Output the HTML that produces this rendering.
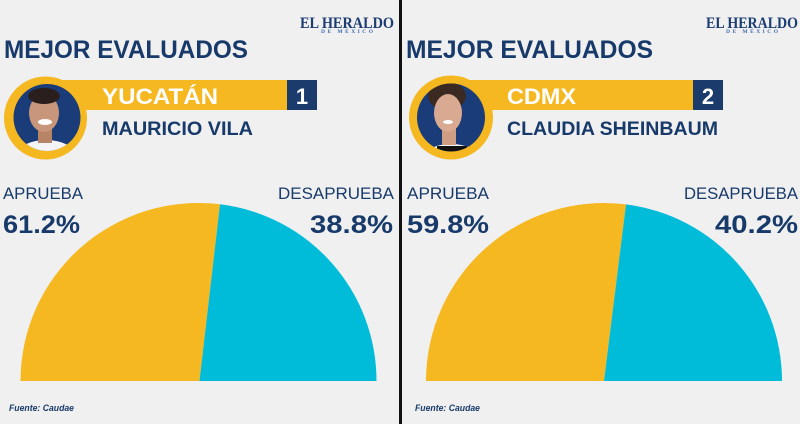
<!DOCTYPE html>
<html>
<head>
<meta charset="utf-8">
<style>
  html,body{margin:0;padding:0;background:#f0f0f0;}
  svg{display:block;}
  text{font-family:"Liberation Sans",sans-serif;}
  text.serif{font-family:"Liberation Serif","DejaVu Serif",serif;}
</style>
</head>
<body>
<svg width="800" height="424" viewBox="0 0 800 424" xmlns="http://www.w3.org/2000/svg">
  <defs>
    <clipPath id="cl"><circle cx="47" cy="117.5" r="33.5"/></clipPath>
    <clipPath id="cr"><circle cx="451" cy="117.5" r="34"/></clipPath>
  </defs>
  <rect x="0" y="0" width="800" height="424" fill="#f0f0f0"/>
  <!-- divider -->
  <rect x="399" y="0" width="3" height="424" fill="#111"/>

  <!-- ============ LEFT PANEL ============ -->
  <text class="serif" x="300" y="28" style="font-family:'Liberation Serif',serif;font-weight:bold" font-size="16" fill="#1b3d72" textLength="94" lengthAdjust="spacingAndGlyphs">EL HERALDO</text>
  <text class="serif" x="321" y="33" style="font-family:'Liberation Serif',serif;font-weight:bold" font-size="5.5" fill="#3d6bb0" textLength="52" lengthAdjust="spacing">DE MÉXICO</text>

  <text x="4" y="58" font-weight="bold" font-size="25" fill="#183a6b" textLength="244" lengthAdjust="spacingAndGlyphs">MEJOR EVALUADOS</text>

  <rect x="60" y="80" width="228" height="30" fill="#f5b820"/>
  <rect x="287" y="80" width="30" height="30" fill="#1c3b6d"/>
  <circle cx="45.5" cy="118" r="41.5" fill="#f5b820"/>
  <circle cx="47" cy="117.5" r="33.5" fill="#1a3c78"/>
  <g clip-path="url(#cl)">
    <ellipse cx="46" cy="156" rx="30" ry="16" fill="#f4f4f6"/>
    <rect x="38" y="125" width="14" height="18" fill="#b88466"/>
    <ellipse cx="44" cy="113" rx="15" ry="19" fill="#c8967a"/>
    <ellipse cx="44" cy="96" rx="16" ry="8" fill="#2a1f1c"/>
    <ellipse cx="45" cy="122" rx="7" ry="3" fill="#ffffff"/>
  </g>
  <text x="102" y="104" font-weight="bold" font-size="22" fill="#ffffff" textLength="116" lengthAdjust="spacingAndGlyphs">YUCATÁN</text>
  <text x="302" y="104" font-weight="bold" font-size="22" fill="#ffffff" text-anchor="middle">1</text>
  <text x="102" y="135" font-weight="bold" font-size="19" fill="#183a6b" textLength="151" lengthAdjust="spacingAndGlyphs">MAURICIO VILA</text>

  <text x="3" y="199" font-size="17" fill="#183a6b" textLength="80" lengthAdjust="spacingAndGlyphs">APRUEBA</text>
  <text x="278" y="199" font-size="17" fill="#183a6b" textLength="116" lengthAdjust="spacingAndGlyphs">DESAPRUEBA</text>
  <text x="3" y="233" font-weight="bold" font-size="25" fill="#183a6b" textLength="77" lengthAdjust="spacingAndGlyphs">61.2%</text>
  <text x="310" y="233" font-weight="bold" font-size="25" fill="#183a6b" textLength="83" lengthAdjust="spacingAndGlyphs">38.8%</text>

  <path d="M20.5 381 A178 178 0 0 1 220 204.3 L199.5 381 Z" fill="#f5b820"/>
  <path d="M220 204.3 A178 178 0 0 1 376.5 381 L199.5 381 Z" fill="#00bcd9"/>

  <text x="9" y="411" font-size="9" font-weight="bold" font-style="italic" fill="#183a6b" textLength="65" lengthAdjust="spacingAndGlyphs">Fuente: Caudae</text>

  <!-- ============ RIGHT PANEL ============ -->
  <text class="serif" x="706" y="28" style="font-family:'Liberation Serif',serif;font-weight:bold" font-size="16" fill="#1b3d72" textLength="92" lengthAdjust="spacingAndGlyphs">EL HERALDO</text>
  <text class="serif" x="726" y="33" style="font-family:'Liberation Serif',serif;font-weight:bold" font-size="5.5" fill="#3d6bb0" textLength="52" lengthAdjust="spacing">DE MÉXICO</text>

  <text x="406" y="58" font-weight="bold" font-size="25" fill="#183a6b" textLength="247" lengthAdjust="spacingAndGlyphs">MEJOR EVALUADOS</text>

  <rect x="465" y="80" width="229" height="30" fill="#f5b820"/>
  <rect x="693" y="80" width="30" height="30" fill="#1c3b6d"/>
  <circle cx="451" cy="117.5" r="42" fill="#f5b820"/>
  <circle cx="451" cy="117.5" r="34" fill="#1a3c78"/>
  <g clip-path="url(#cr)">
    <ellipse cx="451" cy="160" rx="30" ry="16" fill="#f4f4f6"/>
    <rect x="437" y="146" width="30" height="6" fill="#111"/>
    <rect x="442" y="125" width="14" height="20" fill="#cf9c84"/>
    <ellipse cx="447" cy="96" rx="19" ry="14" fill="#3a2a22"/>
    <ellipse cx="448" cy="113" rx="14" ry="19" fill="#d9a992"/>
    <ellipse cx="448" cy="122" rx="5" ry="2" fill="#ffffff"/>
  </g>
  <text x="507" y="104" font-weight="bold" font-size="22" fill="#ffffff" textLength="69" lengthAdjust="spacingAndGlyphs">CDMX</text>
  <text x="708" y="104" font-weight="bold" font-size="22" fill="#ffffff" text-anchor="middle">2</text>
  <text x="507" y="135" font-weight="bold" font-size="19" fill="#183a6b" textLength="211" lengthAdjust="spacingAndGlyphs">CLAUDIA SHEINBAUM</text>

  <text x="407" y="199" font-size="17" fill="#183a6b" textLength="82" lengthAdjust="spacingAndGlyphs">APRUEBA</text>
  <text x="684" y="199" font-size="17" fill="#183a6b" textLength="114" lengthAdjust="spacingAndGlyphs">DESAPRUEBA</text>
  <text x="407" y="233" font-weight="bold" font-size="25" fill="#183a6b" textLength="82" lengthAdjust="spacingAndGlyphs">59.8%</text>
  <text x="715" y="233" font-weight="bold" font-size="25" fill="#183a6b" textLength="83" lengthAdjust="spacingAndGlyphs">40.2%</text>

  <path d="M426 381 A178 178 0 0 1 626 204.4 L604 381 Z" fill="#f5b820"/>
  <path d="M626 204.4 A178 178 0 0 1 782 381 L604 381 Z" fill="#00bcd9"/>

  <text x="415" y="411" font-size="9" font-weight="bold" font-style="italic" fill="#183a6b" textLength="65" lengthAdjust="spacingAndGlyphs">Fuente: Caudae</text>
</svg>
</body>
</html>
